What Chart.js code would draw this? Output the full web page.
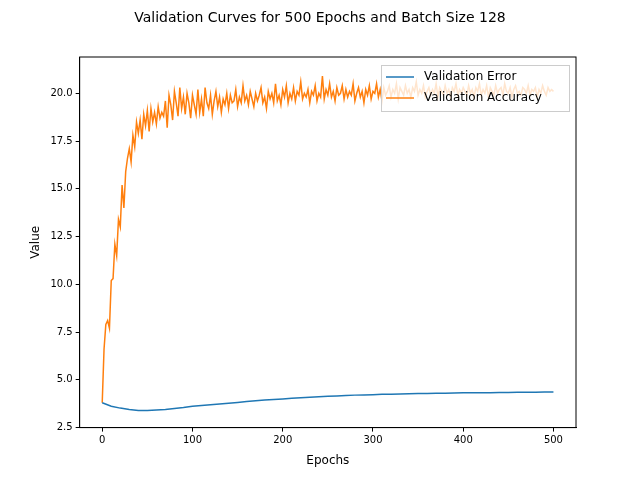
<!DOCTYPE html>
<html><head><script src="https://cdn.jsdelivr.net/npm/chart.js@4"></script>
<style>body{margin:0;background:#fff}#w{width:640px;height:480px}</style></head>
<body><div id="w"><canvas id="c"></canvas></div>
<script>
const accEpochs = Array.from({length:251},(_, i)=>i*2);
const accValues = [3.8,6.6,7.9,8.1,7.7,10.2,10.3,12.1,11.5,13.4,13.0,15.2,14.0,15.9,16.6,17.1,16.4,17.8,17.2,18.5,17.9,
18.6,17.6,18.9,18.3,19.1,18.0,19.2,18.5,19.0,18.4,19.3,18.7,19.0,18.8,19.6,18.2,19.9,19.4,18.6,20.1,19.5,18.8,20.3,19.2,19.8,18.9,20.0,19.5,18.7,19.9,
19.4,18.9,20.2,19.0,19.7,18.8,20.3,19.5,19.2,19.9,18.9,19.6,20.1,19.3,19.8,19.0,19.7,19.4,20.0,19.2,19.9,19.5,19.6,20.2,19.3,19.8,19.5,20.4,19.6,19.9,19.4,20.1,19.7,19.3,20.0,19.6,19.9,20.3,19.5,19.8,19.2,20.1,19.7,20.0,19.5,20.5,19.6,19.9,19.4,20.2,
19.8,20.4,19.5,20.0,19.7,20.3,19.6,20.1,19.9,20.6,19.7,20.0,19.8,20.2,19.5,20.1,19.9,20.4,19.6,20.0,19.8,20.9,19.7,20.2,19.9,20.5,19.8,20.1,19.6,20.3,19.9,20.0,20.4,19.7,20.2,19.8,20.1,19.9,20.5,19.6,20.0,20.3,19.8,20.1,19.5,20.2,19.9,20.4,19.7,20.1,
20.0,20.5,19.8,20.2,19.6,20.3,19.9,20.1,20.4,19.8,20.2,20.0,20.5,19.7,20.3,20.1,19.9,20.4,20.0,20.2,19.8,20.3,20.1,20.6,19.9,20.2,20.0,20.4,19.8,20.1,20.3,19.9,20.2,20.0,20.5,19.8,20.3,20.1,19.9,20.4,20.0,20.2,19.8,20.3,20.1,20.5,19.9,20.2,20.0,20.3,
20.1,19.9,20.4,20.0,20.2,19.8,20.3,20.1,20.5,19.9,20.2,20.0,20.4,19.8,20.3,20.1,19.9,20.4,20.0,20.2,20.3,19.9,20.5,20.1,20.0,20.3,19.8,20.2,20.4,20.0,20.1,19.9,20.3,20.2,20.0,20.4,19.9,20.2,20.1,20.3,19.8,20.2,20.0,20.4,20.1,19.9,20.3,20.1,20.2,20.1];
const errEpochs = Array.from({length:51},(_, i)=>i*10);
const errValues = [3.80,3.62,3.52,3.45,3.40,3.40,3.42,3.45,3.50,3.55,3.62,3.66,3.70,3.74,3.78,3.82,3.87,3.90,3.94,3.97,4.00,4.03,4.06,4.09,4.12,4.14,4.16,4.18,4.20,4.21,4.22,4.24,4.25,4.26,4.27,4.28,4.29,4.30,4.30,4.31,4.32,4.32,4.33,4.33,4.34,4.34,4.35,4.35,4.35,4.36,4.36];
const xTicks = [0,100,200,300,400,500];
const yTicks = [2.5,5.0,7.5,10.0,12.5,15.0,17.5,20.0];
Chart.defaults.font.family = "DejaVu Sans";
Chart.defaults.color = "#000";
const frame = {id:'frame', afterDraw(ch){const a=ch.chartArea,x=ch.ctx;x.save();x.strokeStyle='#000';x.lineWidth=1;x.strokeRect(a.left,a.top,a.right-a.left,a.bottom-a.top);
 const bx=a.right-195,by=a.top+8;
 x.fillStyle='rgba(255,255,255,0.8)';x.fillRect(bx,by,188,46);x.strokeStyle='#ccc';x.strokeRect(bx+0.5,by+0.5,188,46);
 x.font='12px DejaVu Sans';x.textAlign='left';x.textBaseline='middle';
 ch.data.datasets.forEach((d,i)=>{const yy=by+12+i*21;x.strokeStyle=d.borderColor;x.lineWidth=1.5;x.beginPath();x.moveTo(bx+5,yy);x.lineTo(bx+33,yy);x.stroke();x.fillStyle='#000';x.fillText(d.label,bx+43,yy);});
 x.fillStyle='#000';x.font='14px DejaVu Sans';x.textAlign='center';x.textBaseline='alphabetic';x.fillText('Validation Curves for 500 Epochs and Batch Size 128',320,22);x.restore();}};
const tk = {display:true,drawOnChartArea:false,tickColor:'#000',tickLength:4};
new Chart(document.getElementById('c'),{type:'line',
data:{datasets:[
{label:'Validation Error',data:errEpochs.map((e,i)=>({x:e,y:errValues[i]})),borderColor:'#1f77b4',backgroundColor:'#1f77b4',borderWidth:1.5,pointRadius:0,tension:0},
{label:'Validation Accuracy',data:accEpochs.map((e,i)=>({x:e,y:accValues[i]})),borderColor:'#ff7f0e',backgroundColor:'#ff7f0e',borderWidth:1.5,pointRadius:0,tension:0}]},
options:{animation:false,responsive:true,maintainAspectRatio:false,
layout:{padding:{top:57,right:64,left:25,bottom:8}},
plugins:{title:{display:false},legend:{display:false},tooltip:{enabled:false}},
scales:{x:{type:'linear',min:-25,max:525,afterBuildTicks(s){s.ticks=xTicks.map(v=>({value:v}));},grid:tk,border:{color:'#000'},ticks:{font:{size:10}},title:{display:true,text:'Epochs',font:{size:12}}},
y:{min:2.5,max:21.9,afterBuildTicks(s){s.ticks=yTicks.map(v=>({value:v}));},grid:tk,border:{color:'#000'},ticks:{font:{size:10},callback:v=>v.toFixed(1)},title:{display:true,text:'Value',font:{size:12}}}}},
plugins:[frame]});
</script></body></html>
